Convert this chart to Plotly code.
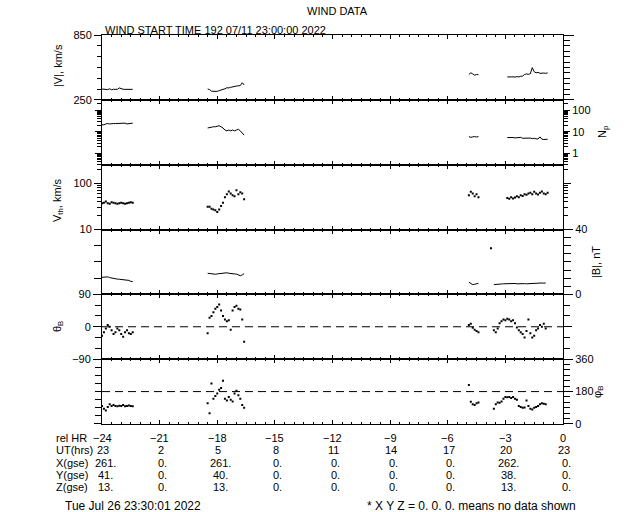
import math
import plotly.graph_objects as go

# ---------------- data ----------------
hr_A = [-24.0, -23.9, -23.8, -23.7, -23.6, -23.5, -23.4, -23.3, -23.2, -23.1, -23.0, -22.9, -22.8, -22.7, -22.6, -22.5, -22.4]
hr_B = [-18.5, -18.4, -18.3, -18.2, -18.1, -18.0, -17.9, -17.8, -17.7, -17.6, -17.5, -17.4, -17.3, -17.2, -17.1, -17.0, -16.9, -16.8, -16.7, -16.6]
hr_C = [-4.9, -4.8, -4.7, -4.6, -4.5, -4.4]
hr_D = [-2.9, -2.8, -2.7, -2.6, -2.5, -2.4, -2.3, -2.2, -2.1, -2.0, -1.9, -1.8, -1.7, -1.6, -1.5, -1.4, -1.3, -1.2, -1.1, -1.0, -0.9, -0.8]
hr_Dm = [-3.6, -3.5, -3.4, -3.3, -3.2, -3.1, -3.0, -2.9, -2.8, -2.7, -2.6, -2.5, -2.4, -2.3, -2.2, -2.1, -2.0, -1.9, -1.8, -1.7, -1.6, -1.5, -1.4, -1.3, -1.2, -1.1, -1.0, -0.9]

vmag_A = [350, 350, 349, 345, 352, 343, 348, 350, 347, 360, 352, 348, 347, 347, 347, 347, 347]
vmag_B = [350, 345, 330, 327, 325, 328, 335, 340, 342, 352, 362, 360, 366, 372, 375, 378, 380, 382, 408, 388]
vmag_C = [485, 500, 490, 478, 485, 482]
vmag_D = [462, 465, 462, 463, 460, 465, 462, 468, 470, 485, 490, 486, 492, 548, 510, 500, 505, 495, 500, 498, 495, 500]

np_A = [21, 21, 23, 24, 23, 24, 24, 24, 24, 25, 25, 25, 25, 23, 24, 25, 25]
np_B = [15, 16, 17, 17, 17, 18, 19, 17, 15, 12, 11, 12, 11, 12, 11, 12, 13, 11, 9, 7]
np_C = [6.0, 5.5, 5.8, 6.0, 5.7, 6.0]
np_D = [5.4, 5.5, 5.3, 5.4, 5.2, 5.4, 5.3, 5.5, 5.0, 5.1, 4.9, 5.0, 5.1, 4.8, 5.0, 4.7, 4.6, 5.8, 4.5, 4.4, 4.6, 4.5]

vth_A = [37, 38, 40, 37, 36, 39, 38, 37, 36, 37, 38, 37, 36, 37, 38, 39, 38]
vth_B = [31, 31, 28, 27, 26, 24, 27, 32, 38, 50, 58, 66, 60, 55, 52, 70, 58, 64, 60, 45]
vth_C = [55, 65, 60, 52, 58, 50]
vth_D = [48, 46, 50, 47, 49, 52, 50, 55, 53, 58, 56, 60, 62, 58, 65, 60, 57, 62, 66, 60, 58, 62]

bmag_A = [10.5, 10.5, 10.6, 10.8, 10.3, 10.0, 9.8, 9.6, 9.4, 9.3, 9.2, 9.3, 9.0, 8.8, 8.6, 8.0, 7.9]
bmag_B = [13.0, 12.8, 12.4, 12.3, 12.4, 12.6, 12.8, 13.0, 13.2, 13.4, 13.3, 13.0, 13.0, 12.8, 12.6, 12.5, 12.2, 11.5, 12.0, 12.8]
bmag_C = [7.5, 6.5, 6.0, 6.2, 6.5, 6.8]
bmag_D = [6.0, 6.2, 6.3, 6.5, 6.4, 6.5, 6.6, 6.5, 6.4, 6.5, 6.6, 6.7, 6.5, 6.6, 6.8, 6.7, 6.6, 6.5, 6.6, 6.7, 6.8, 6.9, 6.8, 6.7, 6.9, 7.0, 6.9, 7.0]
bspike_hr = [-3.75]
bspike_val = [28.5]

theta_A = [-25, -15, -5, 5, 0, -10, -20, -15, -5, -10, -20, -28, -15, -10, -18, -20, -15]
theta_B = [-18, 25, 30, 40, 50, 55, 62, 45, 30, 20, 15, 18, -8, 45, 55, 58, 50, 48, 20, -42]
theta_C = [5, 8, -3, -8, -12, -15]
theta_D = [-10, -15, -5, 10, 15, 20, 18, 22, 20, 15, 18, 10, -2, -10, -15, -20, -30, -12, 20, -18, -30, -25, -10, -5, 5, 0, 8, -5]

phi_A = [100, 85, 75, 95, 110, 100, 105, 100, 98, 102, 100, 105, 98, 100, 103, 100, 98]
phi_B = [115, 60, 225, 140, 155, 170, 190, 200, 240, 140, 130, 150, 135, 125, 170, 185, 160, 140, 105, 90]
phi_C = [217, 124, 110, 105, 115, 120]
phi_D = [85, 110, 120, 118, 125, 140, 150, 148, 150, 145, 150, 140, 135, 100, 95, 90, 92, 130, 100, 85, 80, 90, 95, 100, 110, 115, 112, 110]

theta_ref = 0
phi_ref = 180

rel_hr = [-24, -21, -18, -15, -12, -9, -6, -3, 0]
rel_hr_txt = ["\u221224", "\u221221", "\u221218", "\u221215", "\u221212", "\u22129", "\u22126", "\u22123", "0"]
ut_hrs = ["23", "2", "5", "8", "11", "14", "17", "20", "23"]
x_gse = ["261.", "0.", "261.", "0.", "0.", "0.", "0.", "262.", "0."]
y_gse = ["41.", "0.", "40.", "0.", "0.", "0.", "0.", "38.", "0."]
z_gse = ["13.", "0.", "13.", "0.", "0.", "0.", "0.", "13.", "0."]

# ---------------- layout geometry ----------------
W, H = 640, 512
PL, PR, PT, PB = 102, 563, 35, 424          # plot box in window pixels
PW, PH = PR - PL, PB - PT
ML, MT, MR, MB = PL, PT, W - PR, H - PB
FONT = "Liberation Sans"
BLACK = "black"


def px(xp):
    return (xp - PL) / PW


def py(yp):
    return (PB - yp) / PH


fig = go.Figure()

panels = [
    ([hr_A, hr_B, hr_C, hr_D], [vmag_A, vmag_B, vmag_C, vmag_D], "lines"),
    ([hr_A, hr_B, hr_C, hr_D], [np_A, np_B, np_C, np_D], "lines"),
    ([hr_A, hr_B, hr_C, hr_D], [vth_A, vth_B, vth_C, vth_D], "markers"),
    ([hr_A, hr_B, hr_C, hr_Dm], [bmag_A, bmag_B, bmag_C, bmag_D], "lines"),
    ([hr_A, hr_B, hr_C, hr_Dm], [theta_A, theta_B, theta_C, theta_D], "markers"),
    ([hr_A, hr_B, hr_C, hr_Dm], [phi_A, phi_B, phi_C, phi_D], "markers"),
]
for i, (ts, vs, mode) in enumerate(panels):
    for t, v in zip(ts, vs):
        fig.add_trace(go.Scatter(
            x=t, y=v, mode=mode, xaxis=f"x{i+1}", yaxis=f"y{i+1}",
            line=dict(color=BLACK, width=1),
            marker=dict(color=BLACK, size=2, symbol="square"),
            showlegend=False, hoverinfo="skip"))
    fig.add_trace(go.Scatter(x=[None], y=[None], xaxis=f"x{i+1}", yaxis=f"y{i+7}",
                             mode="markers", showlegend=False, hoverinfo="skip"))

fig.add_trace(go.Scatter(x=bspike_hr, y=bspike_val, mode="markers", xaxis="x4", yaxis="y4",
                         marker=dict(color=BLACK, size=2, symbol="square"),
                         showlegend=False, hoverinfo="skip"))

tickfont = dict(family=FONT, size=11, color=BLACK)


def yax(**kw):
    d = dict(showgrid=False, zeroline=False, showline=True, linecolor=BLACK, linewidth=1,
             ticks="outside", tickcolor=BLACK, tickwidth=1, tickfont=tickfont, mirror=False)
    d.update(kw)
    return d


def minor(vals, ln):
    return dict(tickvals=vals, ticks="outside", ticklen=ln, tickcolor=BLACK, tickwidth=1, showgrid=False)


np_rng = [math.log10(0.3), math.log10(300)]
vth_rng = [1, 2.4]
log_minor_np = [0.3, 0.4, 0.5, 0.6, 0.7, 0.8, 0.9, 2, 3, 4, 5, 6, 7, 8, 9,
                20, 30, 40, 50, 60, 70, 80, 90, 200, 300]
log_minor_vth = [20, 30, 40, 50, 60, 70, 80, 90, 200]

left_axes = [
    yax(range=[250, 850], tickvals=[250, 850], ticktext=["250", "850"], ticklen=7,
        minor=minor([350, 450, 550, 650, 750], 4)),
    yax(type="log", range=np_rng, tickvals=[1, 10, 100], showticklabels=False, ticklen=6,
        minor=minor(log_minor_np, 4)),
    yax(type="log", range=vth_rng, tickvals=[10, 100], ticktext=["10", "100"], ticklen=7,
        minor=minor(log_minor_vth, 4)),
    yax(range=[0, 40], tickvals=[0, 40], showticklabels=False, ticklen=7,
        minor=minor([10, 20, 30], 7)),
    yax(range=[-90, 90], tickvals=[-90, 0, 90], ticktext=["\u221290", "0", "90"], ticklen=8,
        minor=minor([-60, -30, 30, 60], 6)),
    yax(range=[0, 360], tickvals=[0, 360], showticklabels=False, ticklen=7,
        minor=minor([45, 90, 135, 180, 225, 270, 315], 6)),
]
right_axes = [
    yax(range=[250, 850], tickvals=[250, 850], showticklabels=False, ticklen=10,
        minor=minor([300, 350, 400, 450, 500, 550, 600, 650, 700, 750, 800], 6)),
    yax(type="log", range=np_rng, tickvals=[1, 10, 100], ticktext=["1", "10", "100"], ticklen=6,
        minor=minor(log_minor_np, 4)),
    yax(type="log", range=vth_rng, tickvals=[10, 100], showticklabels=False, ticklen=7,
        minor=minor(log_minor_vth, 4)),
    yax(range=[0, 40], tickvals=[0, 40], ticktext=["0", "40"], ticklen=9,
        minor=minor([5, 10, 15, 20, 25, 30, 35], 7)),
    yax(range=[-90, 90], tickvals=[-90, 0, 90], showticklabels=False, ticklen=8,
        minor=minor([-60, -30, 30, 60], 6)),
    yax(range=[0, 360], tickvals=[0, 180, 360], ticktext=["0", "180", "360"], ticklen=9,
        minor=minor([30, 60, 90, 120, 150, 210, 240, 270, 300, 330], 6)),
]

layout = dict(
    width=W, height=H, margin=dict(l=ML, r=MR, t=MT, b=MB, autoexpand=False),
    paper_bgcolor="white", plot_bgcolor="white", showlegend=False,
    font=dict(family=FONT, size=11, color=BLACK),
)
for i in range(6):
    dom = [1 - (i + 1) / 6, 1 - i / 6]
    layout[f"xaxis{i+1}"] = dict(
        domain=[0, 1], range=[-24, 0], anchor=f"y{i+1}", showline=True, linecolor=BLACK,
        linewidth=1, mirror="ticks", ticks="inside", ticklen=4, tickwidth=1, tickcolor=BLACK,
        tickvals=rel_hr, showticklabels=False, showgrid=False, zeroline=False,
        minor=dict(ticks="inside", tickvals=[h + 0.5 * k for h in rel_hr[:-1] for k in range(1, 6)],
                   ticklen=2, tickcolor=BLACK, showgrid=False))
    la = left_axes[i]
    la.update(domain=dom, anchor=f"x{i+1}", side="left", automargin=False)
    layout[f"yaxis{i+1}"] = la
    ra = right_axes[i]
    ra.update(anchor=f"x{i+1}", side="right", overlaying=f"y{i+1}", automargin=False)
    layout[f"yaxis{i+7}"] = ra
fig.update_layout(**layout)

dash = "8px,5px"
fig.add_shape(type="line", xref="x5 domain", yref="y5", x0=0, x1=1, y0=theta_ref, y1=theta_ref,
              line=dict(color=BLACK, width=1, dash=dash))
fig.add_shape(type="line", xref="x6 domain", yref="y6", x0=0, x1=1, y0=phi_ref, y1=phi_ref,
              line=dict(color=BLACK, width=1, dash=dash))

ann = []


def txt(x, y, s, xref="paper", xanchor="center", yanchor="middle", angle=0, size=11, xshift=0):
    ann.append(dict(x=x, y=y, xref=xref, yref="paper", text=s, showarrow=False,
                    xanchor=xanchor, yanchor=yanchor, textangle=angle, xshift=xshift,
                    font=dict(family=FONT, size=size, color=BLACK)))


txt(px(337), py(11), "WIND DATA")
txt(px(103), py(38), "WIND START TIME 192 07/11 23:00:00 2022", xanchor="left", yanchor="bottom")

txt(px(58), py(66), "|V|, km/s", angle=-90)
txt(px(603), py(132), "N<sub>p</sub>", angle=-90)
txt(px(58), py(200), "V<sub>th</sub>, km/s", angle=-90)
txt(px(596), py(262), "|B|, nT", angle=-90)
txt(px(58), py(327), "\u03b8<sub>B</sub>", angle=-90)
txt(px(598), py(392), "\u03c6<sub>B</sub>", angle=-90)

rows = [("rel HR", rel_hr_txt, 0), ("UT(hrs)", ut_hrs, 1), ("X(gse)", x_gse, 3),
        ("Y(gse)", y_gse, 3), ("Z(gse)", z_gse, 3)]
row_y = [438, 450, 463, 475, 487]
for (lab, vals, off), yy in zip(rows, row_y):
    txt(px(54), py(yy), lab, xanchor="left")
    for h, s in zip(rel_hr, vals):
        txt(h, py(yy), s, xref="x6", xshift=off)

txt(px(63), py(506), "Tue Jul 26 23:30:01 2022", xanchor="left", size=12)
txt(px(578), py(506), "* X Y Z = 0. 0. 0. means no data shown", xanchor="right", size=12)

fig.update_layout(annotations=ann)
fig.write_html("out.html", config={"displayModeBar": False, "staticPlot": True},
               post_script="document.body.style.margin='0';document.body.style.overflow='hidden';")
